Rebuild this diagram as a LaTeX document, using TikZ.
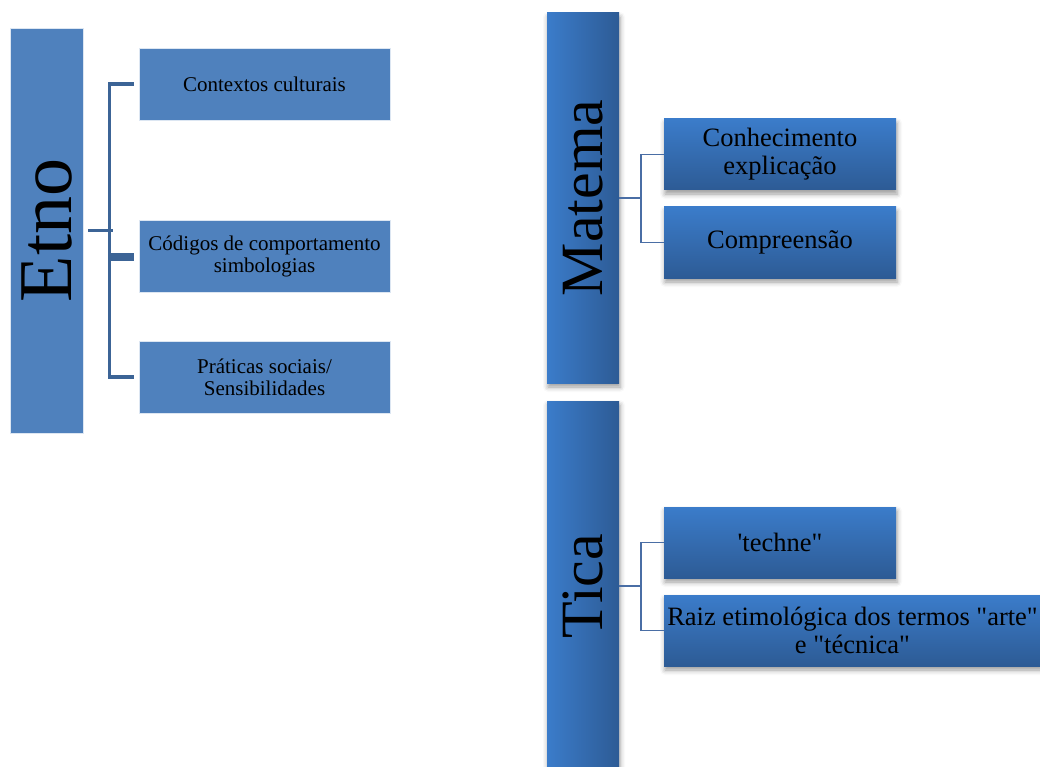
\documentclass[tikz,border=0pt]{standalone}
\usepackage{fontspec}
\setmainfont{Liberation Serif}
\newfontfamily\tnr{Liberation Serif}
\usetikzlibrary{shadows.blur}
\definecolor{azulplano}{RGB}{79,129,189}
\definecolor{azulramo}{RGB}{60,100,150}
\definecolor{azulclaro}{RGB}{59,124,202}
\definecolor{azulescuro}{RGB}{45,91,149}
\definecolor{azullinha}{RGB}{74,110,165}
\tikzset{
  sombra/.style={blur shadow={shadow xshift=1pt, shadow yshift=-4pt, shadow blur radius=5pt, shadow opacity=40}},
  caixa/.style={draw=white!80!azulplano, line width=0.6pt, fill=azulplano, minimum width=251pt, minimum height=72pt, inner sep=0pt, align=center, font={\tnr\fontsize{21}{22}\selectfont}},
  raiz/.style={sombra, left color=azulclaro, right color=azulescuro, minimum width=72pt, minimum height=370pt, inner sep=0pt, font={\tnr\fontsize{60}{64}\selectfont}},
  folha/.style={sombra, top color=azulclaro, bottom color=azulescuro, minimum width=232pt, minimum height=71pt, inner sep=0pt, align=center, font={\tnr\fontsize{26.5}{28}\selectfont}},
  ramo/.style={draw=azulramo, line width=3.5pt},
  ligacao/.style={draw=azullinha, line width=1.5pt}
}

\begin{document}
\begin{tikzpicture}[x=1pt,y=-1pt]
  \useasboundingbox (0,0) rectangle (1040,767);

  % Etno
  \node[caixa, minimum width=73pt, minimum height=405pt, font={\tnr\fontsize{76}{80}\selectfont}] (etno) at (46.5,230.5) {\rotatebox{90}{Etno}};
  \node[caixa] (contextos) at (264.5,84) {Contextos culturais};
  \node[caixa] (codigos) at (264.5,256.5) {Códigos de comportamento\\simbologias};
  \node[caixa] (praticas) at (264.5,377) {Práticas sociais/\\Sensibilidades};

  \draw[ramo] ([xshift=5pt]etno.east) -- ++(25,0);
  \draw[ramo] ([xshift=-5pt]contextos.west) -- ++(-24,0) |- ([xshift=-5pt]praticas.west);
  \draw[ramo, line width=8pt] ([xshift=-5pt]codigos.west) -- ++(-24,0);

  % Matema
  \node[raiz] (matema) at (583,198) {\rotatebox{90}{Matema}};
  \node[folha] (conhecimento) at (780,154.5) {Conhecimento\\explicação};
  \node[folha] (compreensao) at (780,242.5) {Compreensão};

  \draw[ligacao] (matema.east) -- ++(22,0) |- (conhecimento.west);
  \draw[ligacao] (matema.east) -- ++(22,0) |- (compreensao.west);

  % Tica
  \node[raiz] (tica) at (583,586) {\rotatebox{90}{Tica}};
  \node[folha] (techne) at (780,542.5) {'techne"};
  \node[folha, minimum width=377pt] (raizet) at (852.5,630.5) {Raiz etimológica dos termos "arte"\\e "técnica"};

  \draw[ligacao] (tica.east) -- ++(22,0) |- (techne.west);
  \draw[ligacao] (tica.east) -- ++(22,0) |- (raizet.west);
\end{tikzpicture}
\end{document}
